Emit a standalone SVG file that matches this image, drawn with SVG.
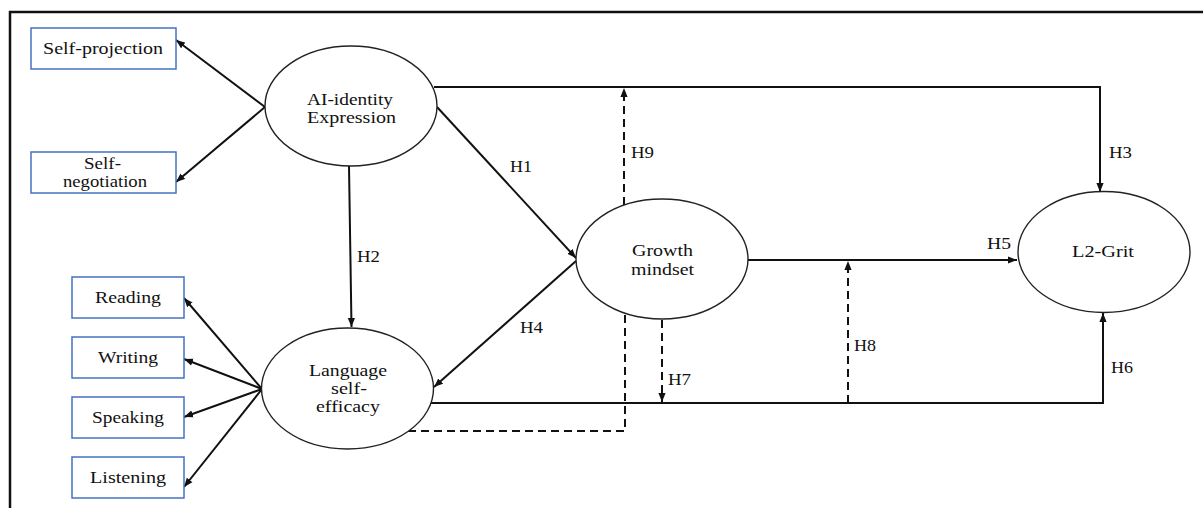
<svg xmlns="http://www.w3.org/2000/svg" width="1203" height="508" viewBox="0 0 1203 508">
<style>
text{font-family:"Liberation Serif",Tinos,"Times New Roman",serif;font-size:16.5px;fill:#111;}
.h{font-size:16px;}
.box{fill:#fff;stroke:#4472c4;stroke-width:1.5;}
.ell{fill:#fff;stroke:#222;stroke-width:1.4;}
.c{fill:none;stroke:#111;stroke-width:2;}
.d{fill:none;stroke:#111;stroke-width:2;stroke-dasharray:8,5;}
</style>
<defs>
<marker id="ah" viewBox="0 0 10 8" refX="10" refY="4" markerWidth="9" markerHeight="8" markerUnits="userSpaceOnUse" orient="auto">
<path d="M0,0 L10,4 L0,8 z" fill="#111"/>
</marker>
</defs>
<g id="frame">
<path d="M10,509 L10,12 L1204,12" fill="none" stroke="#111" stroke-width="2.5"/>
</g>
<g id="connectors">
<line class="c" x1="265" y1="107" x2="176" y2="40" marker-end="url(#ah)"/>
<line class="c" x1="265" y1="107" x2="176" y2="182" marker-end="url(#ah)"/>
<path class="c" d="M434,87 L1100,87 L1100,192" marker-end="url(#ah)"/>
<line class="c" x1="437" y1="107" x2="576" y2="258" marker-end="url(#ah)"/>
<line class="c" x1="349" y1="166" x2="351.5" y2="327" marker-end="url(#ah)"/>
<line class="c" x1="576" y1="261" x2="434" y2="387" marker-end="url(#ah)"/>
<line class="c" x1="262" y1="389" x2="184" y2="298" marker-end="url(#ah)"/>
<line class="c" x1="262" y1="389" x2="184" y2="359" marker-end="url(#ah)"/>
<line class="c" x1="262" y1="389" x2="184" y2="417" marker-end="url(#ah)"/>
<line class="c" x1="262" y1="389" x2="184" y2="487" marker-end="url(#ah)"/>
<line class="c" x1="748" y1="260" x2="1017" y2="260" marker-end="url(#ah)"/>
<path class="c" d="M431,403 L1103,403 L1103,313" marker-end="url(#ah)"/>
<line class="d" x1="624" y1="205" x2="624" y2="88" marker-end="url(#ah)"/>
<line class="d" x1="662" y1="320" x2="662" y2="402" marker-end="url(#ah)"/>
<line class="d" x1="848" y1="403" x2="848" y2="261" marker-end="url(#ah)"/>
<path class="d" d="M408,431 L625,431 L625,313"/>
</g>
<g id="labels">
<text class="h" x="510" y="172" textLength="22" lengthAdjust="spacingAndGlyphs">H1</text>
<text class="h" x="357" y="262" textLength="23" lengthAdjust="spacingAndGlyphs">H2</text>
<text class="h" x="1109" y="158" textLength="23" lengthAdjust="spacingAndGlyphs">H3</text>
<text class="h" x="520" y="333" textLength="23" lengthAdjust="spacingAndGlyphs">H4</text>
<text class="h" x="987" y="249" textLength="24" lengthAdjust="spacingAndGlyphs">H5</text>
<text class="h" x="1111" y="373" textLength="22" lengthAdjust="spacingAndGlyphs">H6</text>
<text class="h" x="668" y="385" textLength="23" lengthAdjust="spacingAndGlyphs">H7</text>
<text class="h" x="854" y="351" textLength="22" lengthAdjust="spacingAndGlyphs">H8</text>
<text class="h" x="631" y="158" textLength="23" lengthAdjust="spacingAndGlyphs">H9</text>
</g>
<g id="self-projection">
<rect class="box" x="31" y="28" width="145" height="41"/>
<text x="43" y="54" textLength="120" lengthAdjust="spacingAndGlyphs">Self-projection</text>
</g>
<g id="self-negotiation">
<rect class="box" x="31" y="152" width="145" height="41"/>
<text x="84" y="169" textLength="37" lengthAdjust="spacingAndGlyphs">Self-</text>
<text x="63" y="187" textLength="84" lengthAdjust="spacingAndGlyphs">negotiation</text>
</g>
<g id="reading">
<rect class="box" x="72" y="277" width="112" height="41"/>
<text x="95" y="303" textLength="66" lengthAdjust="spacingAndGlyphs">Reading</text>
</g>
<g id="writing">
<rect class="box" x="72" y="337" width="112" height="41"/>
<text x="98" y="363" textLength="60" lengthAdjust="spacingAndGlyphs">Writing</text>
</g>
<g id="speaking">
<rect class="box" x="72" y="397" width="112" height="41"/>
<text x="92" y="423" textLength="72" lengthAdjust="spacingAndGlyphs">Speaking</text>
</g>
<g id="listening">
<rect class="box" x="72" y="457" width="112" height="41"/>
<text x="90" y="483" textLength="76" lengthAdjust="spacingAndGlyphs">Listening</text>
</g>
<g id="ai-identity">
<ellipse class="ell" cx="351" cy="106" rx="86" ry="60"/>
<text x="307" y="105" textLength="86" lengthAdjust="spacingAndGlyphs">AI-identity</text>
<text x="307" y="123" textLength="89" lengthAdjust="spacingAndGlyphs">Expression</text>
</g>
<g id="language-self-efficacy">
<ellipse class="ell" cx="347.5" cy="388.5" rx="86" ry="60.5"/>
<text x="309" y="376" textLength="78" lengthAdjust="spacingAndGlyphs">Language</text>
<text x="331" y="394" textLength="36" lengthAdjust="spacingAndGlyphs">self-</text>
<text x="316" y="412" textLength="64" lengthAdjust="spacingAndGlyphs">efficacy</text>
</g>
<g id="growth-mindset">
<ellipse class="ell" cx="662" cy="259" rx="86" ry="60"/>
<text x="632" y="256" textLength="61" lengthAdjust="spacingAndGlyphs">Growth</text>
<text x="631" y="275" textLength="63" lengthAdjust="spacingAndGlyphs">mindset</text>
</g>
<g id="l2-grit">
<ellipse class="ell" cx="1104" cy="252" rx="86" ry="60.5"/>
<text x="1072" y="257" textLength="62" lengthAdjust="spacingAndGlyphs">L2-Grit</text>
</g>
</svg>
